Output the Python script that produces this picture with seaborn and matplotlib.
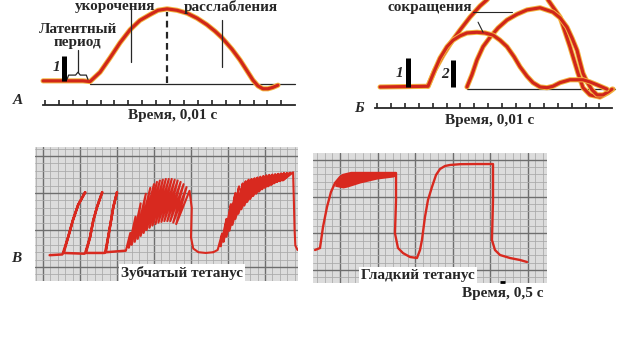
import matplotlib
matplotlib.use("Agg")
import matplotlib.pyplot as plt
import matplotlib.patheffects as pe
from matplotlib.ticker import MultipleLocator
import numpy as np
import pandas as pd
import seaborn as sns

# ---------------- Panel A: single twitch (x: ticks of 0.01 s, y: relative shortening) ----------------
a_time = [-0.14, 1.22, 1.58, 2.16, 2.73, 3.24, 3.96, 4.68, 5.40, 6.12, 6.83, 7.55, 8.13, 8.78, 9.50,
          10.22, 10.94, 11.65, 12.23, 12.73, 13.45, 14.03, 14.53, 14.96, 15.32, 15.68, 16.04, 16.40, 16.76]
a_amp = [0.03, 0.03, 0.03, 0.03, 0.03, 0.02, 0.15, 0.35, 0.56, 0.74, 0.87, 0.95, 1.01, 1.03, 1.01,
         0.97, 0.90, 0.81, 0.72, 0.63, 0.47, 0.32, 0.17, 0.04, -0.04, -0.08, -0.08, -0.06, -0.03]
a_base_t = [3.24, 18.0]
a_base_a = [-0.02, -0.02]
a_ticks = list(range(18))
a_stim_t = [1.40]
a_stim_h = [0.38]
a_phase_t = [6.19, 8.78, 12.73]
a_phase_lo = [0.29, 0.0, 0.22]
a_phase_hi = [1.04, 0.99, 0.875]
a_brace_t = [1.58, 1.70, 2.20, 2.37, 2.54, 2.97, 3.09]
a_brace_a = [0.05, 0.11, 0.11, 0.15, 0.11, 0.11, 0.05]

# ---------------- Panel Б: summation of two twitches ----------------
b1_time = [0.22, 3.67, 4.10, 4.53, 5.04, 5.47, 5.97, 6.47, 7.19, 7.77, 8.35, 8.85, 9.35, 9.86, 10.29,
           10.79, 11.22, 11.73, 12.23, 12.66, 13.17, 13.88, 14.82, 15.32, 15.83, 16.55]
b1_amp = [0.0, 0.01, 0.21, 0.40, 0.56, 0.65, 0.71, 0.75, 0.76, 0.75, 0.72, 0.65, 0.56, 0.42, 0.28,
          0.15, 0.06, 0.0, -0.01, 0.01, 0.06, 0.10, 0.10, 0.07, 0.03, -0.03]
b2_time = [6.47, 6.83, 7.19, 7.63, 8.13, 8.71, 9.35, 10.07, 10.79, 11.73, 12.66, 13.17, 13.67, 14.03,
           14.39, 14.60, 14.82, 15.11, 15.47, 15.83, 16.26, 16.62, 16.91]
b2_amp = [0.0, 0.17, 0.375, 0.56, 0.69, 0.82, 0.93, 1.01, 1.07, 1.10, 1.04, 0.96, 0.83, 0.68,
          0.51, 0.35, 0.19, 0.07, -0.04, -0.11, -0.11, -0.07, -0.03]
bs_time = [3.67, 4.17, 4.75, 5.40, 5.97, 6.69, 7.41, 7.91, 8.27, 8.85, 10.29, 11.73, 12.30, 13.17,
           13.88, 14.46, 14.82, 15.32, 16.04, 16.62, 16.98]
bs_amp = [0.01, 0.24, 0.44, 0.64, 0.79, 0.97, 1.125, 1.21, 1.29, 1.56, 1.69, 1.56, 1.21, 0.97,
          0.56, 0.19, -0.01, -0.11, -0.14, -0.08, -0.03]
b_base_t = [6.47, 17.12]
b_base_a = [-0.03, -0.03]
b_ticks = list(range(17))
b_stim_t = [2.23, 5.47]
b_stim_h = [0.40, 0.375]

# ---------------- Panel В: tetanus recordings (x, y in minor grid squares) ----------------
singles_t = [0.9, 2.6, 2.7, 3.4, 4.05, 4.75, 5.7, 4.75, 4.05, 3.4, 2.8, 5.6, 5.7, 6.35, 6.8, 7.3, 8.0,
             7.3, 6.8, 6.35, 5.8, 8.3, 8.4, 8.8, 9.2, 9.5, 10.0, 9.5, 9.2, 8.8, 8.5, 11.1]
singles_a = [1.6, 1.7, 1.9, 4.05, 6.35, 8.4, 10.1, 8.4, 6.35, 4.05, 1.9, 1.8, 1.9, 4.0, 6.3, 8.1, 10.1,
             8.1, 6.3, 4.0, 1.9, 1.9, 2.0, 4.0, 6.3, 8.1, 10.1, 8.1, 6.3, 4.0, 2.0, 2.2]
clonic1_t = [11.2, 11.8, 11.6, 12.5, 12.0, 13.2, 12.4, 13.9, 12.8, 14.5, 13.2, 15.0, 13.6, 15.4, 14.0,
             15.8, 14.4, 16.2, 14.8, 16.6, 15.2, 17.0, 15.6, 17.4, 16.0, 17.8, 16.4, 18.2, 16.8, 18.6,
             17.2, 19.0, 17.6, 19.4, 18.0, 19.8, 20.1, 20.0, 20.3, 21.0, 22.0, 23.0]
clonic1_a = [2.2, 4.6, 2.6, 6.8, 3.0, 8.6, 3.4, 9.9, 3.8, 10.7, 4.2, 11.2, 4.6, 11.5, 5.0, 11.7, 5.3,
             11.8, 5.6, 11.9, 5.8, 11.9, 6.0, 11.9, 6.1, 11.8, 6.2, 11.7, 6.2, 11.5, 6.2, 11.2, 6.0,
             10.8, 5.8, 10.3, 8.0, 4.0, 2.5, 2.0, 1.9, 2.0]
clonic2_t = [23.0, 23.6, 24.2, 24.0, 24.8, 24.4, 25.4, 24.8, 26.0, 25.2, 26.5, 25.6, 27.0, 26.0, 27.4,
             26.4, 27.8, 26.8, 28.2, 27.2, 28.6, 27.6, 29.0, 28.0, 29.4, 28.4, 29.8, 28.8, 30.2, 29.2,
             30.6, 29.6, 31.0, 30.0, 31.4, 30.4, 31.8, 30.8, 32.2, 31.2, 32.6, 31.6, 33.0, 32.0, 33.4,
             32.4, 33.8, 33.9, 34.0, 34.1, 34.4]
clonic2_a = [2.0, 2.3, 4.5, 2.8, 6.5, 3.4, 8.5, 4.1, 10.0, 4.9, 10.9, 5.7, 11.3, 6.5, 11.6, 7.2, 11.8,
             7.8, 11.9, 8.3, 12.0, 8.8, 12.1, 9.2, 12.2, 9.6, 12.3, 9.9, 12.4, 10.2, 12.45, 10.5, 12.5,
             10.7, 12.55, 10.9, 12.6, 11.1, 12.65, 11.3, 12.7, 11.5, 12.7, 11.6, 12.75, 11.7, 12.8,
             9.0, 5.0, 2.9, 2.3]
smooth_t = [-3.32, -2.66, -2.26, -1.73, -1.20, -0.66, 0.0, 0.40, 1.5, 3.0, 4.5, 6.0, 7.45, 7.45, 7.31,
            7.71, 8.38, 9.31, 10.24, 10.64, 10.90, 11.30, 11.70, 12.23, 12.77, 13.30, 13.96, 14.63,
            16.0, 18.0, 20.35, 20.35, 20.21, 20.61, 21.28, 22.61, 23.94, 24.87]
smooth_a = [2.72, 2.99, 5.85, 8.57, 10.61, 11.84, 12.65, 12.93, 13.2, 13.2, 13.2, 13.2, 13.2, 9.5, 5.0,
            3.0, 2.3, 1.77, 1.63, 2.72, 4.08, 7.21, 9.52, 11.29, 12.93, 13.74, 14.15, 14.29,
            14.4, 14.42, 14.42, 9.52, 4.08, 2.72, 2.04, 1.63, 1.36, 1.09]
ripple_t = [-0.7, 0.4, 1.0, 2.66, 4.92, 7.05, 7.4]
ripple_top = [11.9, 13.0, 13.25, 13.25, 13.25, 13.2, 13.2]
ripple_low = [11.4, 11.16, 11.3, 11.84, 12.38, 12.65, 12.8]
mark_t = [21.3, 21.9]
mark_a = [-1.6, -1.6]

# ---------------- styling ----------------
sns.set_theme(style="white")
SERIF = ["Liberation Serif", "DejaVu Serif"]
plt.rcParams["font.family"] = SERIF
RED = "#d0261a"
HALO = "#f3b540"
TRACE = "#d8291f"
INK = "#262626"
halo = [pe.Stroke(linewidth=3.7, foreground=HALO), pe.Normal()]
TXT = dict(fontweight="bold", color=INK, fontsize=11)

W, H = 640, 360
fig = plt.figure(figsize=(6.4, 3.6), dpi=100)
fig.patch.set_facecolor("white")


def px_axes(x0, y0, x1, y1):
    return fig.add_axes([x0 / W, 1 - y1 / H, (x1 - x0) / W, (y1 - y0) / H])


def time_axis(ax, y, lo, hi, ticks):
    for s in ["top", "left", "right"]:
        ax.spines[s].set_visible(False)
    ax.spines["bottom"].set_position(("data", y))
    ax.spines["bottom"].set_bounds(lo, hi)
    ax.spines["bottom"].set_color(INK)
    ax.spines["bottom"].set_linewidth(1.3)
    ax.set_xticks(ticks)
    ax.tick_params(axis="x", bottom=True, direction="in", length=3.8, width=1.2,
                   colors=INK, labelbottom=False)
    ax.set_yticks([])
    ax.set_xlabel("")
    ax.set_ylabel("")
    ax.set_facecolor("white")


# ---------- Panel A ----------
axA = px_axes(30, 0, 320, 135)
sns.lineplot(x=a_base_t, y=a_base_a, ax=axA, color=INK, linewidth=0.9, estimator=None, sort=False)
sns.lineplot(x=a_time, y=a_amp, ax=axA, color=RED, linewidth=2.3, estimator=None, sort=False,
             path_effects=halo, zorder=3)
for t, lo, hi, ls in zip(a_phase_t, a_phase_lo, a_phase_hi, ["-", (0, (3, 2)), "-"]):
    axA.plot([t, t], [lo, hi], color=INK, linewidth=1.6 if ls != "-" else 0.9, linestyle=ls, zorder=4)
axA.vlines(a_stim_t, 0.03, a_stim_h, color="black", linewidth=3.6, zorder=5)
axA.plot(a_brace_t, a_brace_a, color=INK, linewidth=0.9, zorder=4)
axA.plot([a_brace_t[3], a_brace_t[3]], [a_brace_a[3], 0.46], color=INK, linewidth=0.9, zorder=4)
time_axis(axA, -0.306, -0.15, 18.0, a_ticks)
axA.set_xlim(-1.079, 19.784)
axA.set_ylim(-0.722, 1.153)
axA.text(5.04, 1.06, "укорочения", ha="center", va="center", **TXT)
axA.text(13.38, 1.06, "расслабления", ha="center", va="center", **TXT)
axA.text(2.34, 0.75, "Латентный", ha="center", va="center", **TXT)
axA.text(2.30, 0.56, "период", ha="center", va="center", **TXT)
axA.text(0.79, 0.21, "1", ha="center", va="center", fontstyle="italic", **TXT)
axA.text(9.21, -0.458, "Время, 0,01 с", ha="center", va="center", **TXT)

# ---------- Panel Б ----------
axB = px_axes(340, 0, 640, 135)
sns.lineplot(x=b_base_t, y=b_base_a, ax=axB, color=INK, linewidth=0.9, estimator=None, sort=False)
for tt, aa in [(bs_time, bs_amp), (b2_time, b2_amp), (b1_time, b1_amp)]:
    sns.lineplot(x=tt, y=aa, ax=axB, color=RED, linewidth=2.3, estimator=None, sort=False,
                 path_effects=halo, zorder=3)
axB.vlines(b_stim_t, 0.0, b_stim_h, color="black", linewidth=3.6, zorder=5)
axB.plot([6.91, 9.71], [1.04, 1.04], color=INK, linewidth=0.8, zorder=4)
axB.plot([7.27, 7.63], [0.90, 0.76], color=INK, linewidth=0.8, zorder=4)
time_axis(axB, -0.29, -0.14, 16.91, b_ticks)
axB.set_xlim(-2.662, 18.92)
axB.set_ylim(-0.667, 1.208)
axB.text(3.81, 1.10, "сокращения", ha="center", va="center", **TXT)
axB.text(1.65, 0.19, "1", ha="center", va="center", fontstyle="italic", **TXT)
axB.text(4.89, 0.17, "2", ha="center", va="center", fontstyle="italic", **TXT)
axB.text(8.13, -0.47, "Время, 0,01 с", ha="center", va="center", **TXT)


# ---------- Panel В ----------
def grid_paper(ax):
    ax.set_facecolor("#dcdcdc")
    ax.xaxis.set_major_locator(MultipleLocator(5))
    ax.yaxis.set_major_locator(MultipleLocator(5))
    ax.xaxis.set_minor_locator(MultipleLocator(1))
    ax.yaxis.set_minor_locator(MultipleLocator(1))
    ax.grid(which="minor", color="#a9a9a9", linewidth=0.55)
    ax.grid(which="major", color="#6e6e6e", linewidth=1.0)
    ax.set_axisbelow(True)
    ax.tick_params(which="both", length=0, labelbottom=False, labelleft=False)
    for s in ax.spines.values():
        s.set_visible(False)
    ax.set_xlabel("")
    ax.set_ylabel("")


axL = px_axes(35, 147, 298, 281)
sns.lineplot(x=singles_t, y=singles_a, ax=axL, color=TRACE, linewidth=1.8, estimator=None, sort=False)
for tt, aa in [(clonic1_t, clonic1_a), (clonic2_t, clonic2_a)]:
    sns.lineplot(x=tt, y=aa, ax=axL, color=TRACE, linewidth=1.5, estimator=None, sort=False)
grid_paper(axL)
axL.set_xlim(-1.08, 34.46)
axL.set_ylim(-1.89, 16.22)
axL.text(18.8, -0.75, "Зубчатый тетанус", ha="center", va="center", zorder=6,
         bbox=dict(boxstyle="square,pad=0.12", facecolor="white", edgecolor="none"), **TXT)

axR = px_axes(313, 153, 547, 283)
axR.fill_between(ripple_t, ripple_low, ripple_top, color=TRACE, linewidth=0, zorder=3)
sns.lineplot(x=smooth_t, y=smooth_a, ax=axR, color=TRACE, linewidth=1.7, estimator=None, sort=False)
axR.plot(mark_t, mark_a, color="black", linewidth=2.0, solid_capstyle="butt", clip_on=False, zorder=6)
grid_paper(axR)
axR.set_xlim(-3.59, 27.53)
axR.set_ylim(-1.77, 15.92)
axR.text(10.37, -0.7, "Гладкий тетанус", ha="center", va="center", zorder=6,
         bbox=dict(boxstyle="square,pad=0.12", facecolor="white", edgecolor="none"), **TXT)

# ---------- panel letters and outer labels ----------
fig.text(18 / W, 1 - 100 / H, "А", ha="center", va="center", fontstyle="italic", **TXT)
fig.text(359 / W, 1 - 108 / H, "Б", ha="center", va="center", fontstyle="italic", **TXT)
fig.text(16 / W, 1 - 258 / H, "В", ha="center", va="center", fontstyle="italic", **TXT)
fig.text(503 / W, 1 - 294 / H, "Время, 0,5 с", ha="center", va="center", **TXT)

fig.savefig("out.png", dpi=100, facecolor="white")
